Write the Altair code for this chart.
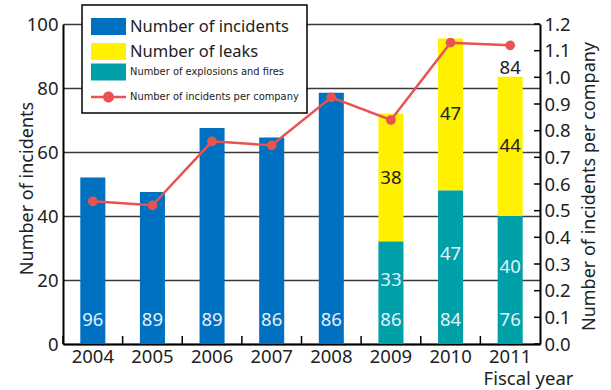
import altair as alt
import pandas as pd

# ---------------- data ----------------
years = ["2004", "2005", "2006", "2007", "2008", "2009", "2010", "2011"]
incidents = [52, 47.5, 67.5, 64.5, 78.5, None, None, None]          # blue bars
explosions_fires = [None, None, None, None, None, 32, 48, 40]       # teal (bottom of stack)
leaks = [None, None, None, None, None, 40, 47.5, 43.5]              # yellow (top of stack)
companies = [96, 89, 89, 86, 86, 86, 84, 76]                        # white labels at bar foot
per_company = [0.535, 0.52, 0.76, 0.745, 0.925, 0.84, 1.13, 1.12]   # red line (right axis)
fires_labels = ["", "", "", "", "", "33", "47", "40"]
leaks_labels = ["", "", "", "", "", "38", "47", "44"]
total_labels = ["", "", "", "", "", "", "", "84"]
left_ticks = [0, 20, 40, 60, 80, 100]
right_ticks = [0.0, 0.1, 0.2, 0.3, 0.4, 0.5, 0.6, 0.7, 0.8, 0.9, 1.0, 1.1, 1.2]

S_INC = "Number of incidents"
S_LEAK = "Number of leaks"
S_FIRE = "Number of explosions and fires"
S_RATE = "Number of incidents per company"

# ---------------- styling ----------------
W, H = 477, 320
FONT = "Noto Sans"
NARROW = "DejaVu Sans Condensed"
FS = 18.5
BLUE, YELLOW, TEAL, RED = "#0070C0", "#FFF100", "#00A0A8", "#E8534F"
INK = "#222222"
LIGHT = "#E4F1FA"

# ---------------- tables ----------------
bar_rows = []
for i, yr in enumerate(years):
    if incidents[i] is not None:
        bar_rows.append({"year": yr, "series": S_INC, "lo": 0, "hi": incidents[i]})
    if explosions_fires[i] is not None:
        bar_rows.append({"year": yr, "series": S_FIRE, "lo": 0, "hi": explosions_fires[i]})
    if leaks[i] is not None:
        base = explosions_fires[i] or 0
        bar_rows.append({"year": yr, "series": S_LEAK, "lo": base, "hi": base + leaks[i]})
bars_df = pd.DataFrame(bar_rows)

main_df = pd.DataFrame({
    "year": years,
    "companies": companies,
    "per_company": per_company,
    "fires": [v if v is not None else 0 for v in explosions_fires],
    "leaks": [v if v is not None else 0 for v in leaks],
    "fires_label": fires_labels,
    "leaks_label": leaks_labels,
    "total_label": total_labels,
})
rt_df = pd.DataFrame({"v": right_ticks})

# ---------------- scales / axes ----------------
x_scale = alt.Scale(domain=years, paddingInner=0, paddingOuter=0)
x_axis = alt.Axis(
    title="Fiscal year", labelAngle=0, ticks=False, labelPadding=3,
    domainColor="black", domainWidth=2,
    labelFont=FONT, labelFontSize=FS, labelColor=INK,
    titleFont=FONT, titleFontSize=18.5, titleColor=INK, titleFontWeight="normal",
    titleX=W + 33, titleY=40.5, titleAlign="right", titleBaseline="alphabetic",
)
yl_scale = alt.Scale(domain=[0, 100])
yl_axis = alt.Axis(
    values=left_ticks, grid=True, gridColor="#3a3a3a", gridWidth=1.5,
    ticks=False, domainColor="black", domainWidth=2, labelPadding=5,
    labelFont=FONT, labelFontSize=FS, labelColor=INK,
    title=S_INC, titleFont=FONT, titleFontSize=18, titleColor=INK, titleFontWeight="normal",
    titleAngle=270, titleX=-31, titleY=H / 2 + 4, titleAlign="center", titleBaseline="alphabetic",
)
yr_scale = alt.Scale(domain=[0, 1.2])
yr_axis = alt.Axis(
    orient="right", values=right_ticks, format=".1f", grid=False, ticks=False,
    domainColor="black", domainWidth=2, labelPadding=4,
    labelFont=FONT, labelFontSize=FS, labelColor=INK,
    title=S_RATE, titleFont=FONT, titleFontSize=18, titleColor=INK, titleFontWeight="normal",
    titleAngle=270, titleX=54, titleY=H / 2 + 2, titleAlign="center", titleBaseline="alphabetic",
)


def X(**kw):
    return alt.X("year:N", scale=x_scale, axis=x_axis, **kw)


def YL(field, **kw):
    return alt.Y(field, scale=yl_scale, axis=yl_axis, **kw)


def YR(field, **kw):
    return alt.Y(field, scale=yr_scale, axis=yr_axis, **kw)


# ---------------- legends ----------------
RECT = "M-1,-1H3.12V1H-1Z"
LINEDOT = ("M-1,-0.15H0.41V0.15H-1Z M1.71,-0.15H3.12V0.15H1.71Z "
           "M0.41,0A0.65,0.65 0 1,1 1.71,0A0.65,0.65 0 1,1 0.41,0Z")
common = dict(
    title=None, orient="none", symbolType=RECT, symbolSize=289, symbolStrokeWidth=0,
    symbolOpacity=1, labelOffset=22, labelColor=INK, labelLimit=400, rowPadding=8, padding=0,
)
legend_a = alt.Legend(legendX=28, legendY=-6, labelFont=FONT, labelFontSize=16.5, **common)
legend_b = alt.Legend(legendX=28, legendY=39.5, labelFont=NARROW, labelFontSize=11, **common)

color_a = alt.Scale(domain=[S_INC, S_LEAK], range=[BLUE, YELLOW])
fill_b = alt.Scale(domain=[S_FIRE, S_RATE], range=[TEAL, RED])
shape_b = alt.Scale(domain=[S_FIRE, S_RATE], range=[RECT, LINEDOT])

frame = alt.Chart(main_df).transform_filter("datum.year == '2004'").mark_rect(
    fill="white", stroke="black", strokeWidth=1.5
).encode(x=alt.value(19), x2=alt.value(244), y=alt.value(-19), y2=alt.value(89))

# ---------------- left layers (bars + labels) ----------------
bars_ab = alt.Chart(bars_df).transform_filter(
    "datum.series != '%s'" % S_FIRE
).mark_bar(width={"band": 0.42}).encode(
    x=X(), y=YL("hi:Q"), y2="lo:Q",
    color=alt.Color("series:N", scale=color_a, legend=legend_a),
)
bars_fire = alt.Chart(bars_df).transform_filter(
    "datum.series == '%s'" % S_FIRE
).mark_bar(width={"band": 0.42}).encode(
    x=X(), y=YL("hi:Q"), y2="lo:Q",
    fill=alt.Fill("series:N", scale=fill_b, legend=legend_b),
)
legend_driver = alt.Chart(bars_df).transform_filter("false").mark_point(
    filled=True, opacity=1
).encode(
    fill=alt.Fill("series:N", scale=fill_b, legend=legend_b),
    shape=alt.Shape("series:N", scale=shape_b, legend=legend_b),
)

x_ticks = alt.Chart(main_df).mark_rule(color="black", strokeWidth=1.5).encode(
    x=X(bandPosition=0), y=alt.value(H - 8), y2=alt.value(H),
)

comp_text = alt.Chart(main_df).mark_text(
    font=FONT, fontSize=FS, color=LIGHT, baseline="middle"
).encode(x=X(), y=alt.value(H - 24), text=alt.Text("companies:Q"))

fire_text = alt.Chart(main_df).transform_filter("datum.fires_label != ''").transform_calculate(
    mid="datum.fires / 2"
).mark_text(font=FONT, fontSize=FS, color=LIGHT, baseline="middle", dy=-13).encode(
    x=X(), y=YL("mid:Q"), text="fires_label:N"
)

leak_text = alt.Chart(main_df).transform_filter("datum.leaks_label != ''").transform_calculate(
    mid="datum.fires + datum.leaks / 2"
).mark_text(font=FONT, fontSize=FS, color=INK, baseline="middle").encode(
    x=X(), y=YL("mid:Q"), text="leaks_label:N"
)

total_text = alt.Chart(main_df).transform_filter("datum.total_label != ''").transform_calculate(
    top="datum.fires + datum.leaks"
).mark_text(font=FONT, fontSize=FS, color=INK, baseline="bottom", dy=1.5).encode(
    x=X(), y=YL("top:Q"), text="total_label:N"
)

left = alt.layer(frame, bars_ab, bars_fire, legend_driver, x_ticks,
                 comp_text, fire_text, leak_text, total_text)

# ---------------- right layers (line) ----------------
line = alt.Chart(main_df).mark_line(color=RED, strokeWidth=2.5).encode(
    x=X(), y=YR("per_company:Q")
)
pts = alt.Chart(main_df).mark_point(filled=True, color=RED, size=95, opacity=1).encode(
    x=X(), y=YR("per_company:Q")
)
r_ticks = alt.Chart(rt_df).mark_rule(color="black", strokeWidth=1.5).encode(
    y=YR("v:Q"), x=alt.value(W - 6), x2=alt.value(W)
)
right = alt.layer(r_ticks, line, pts)

chart = alt.layer(left, right).resolve_scale(y="independent").properties(
    width=W, height=H,
    padding={"left": 63, "top": 24, "right": 71, "bottom": 46},
    autosize=alt.AutoSizeParams(type="none"),
).configure(font=FONT).configure_view(stroke=None)

chart.save("out.html", embed_options={"renderer": "svg", "actions": False})
